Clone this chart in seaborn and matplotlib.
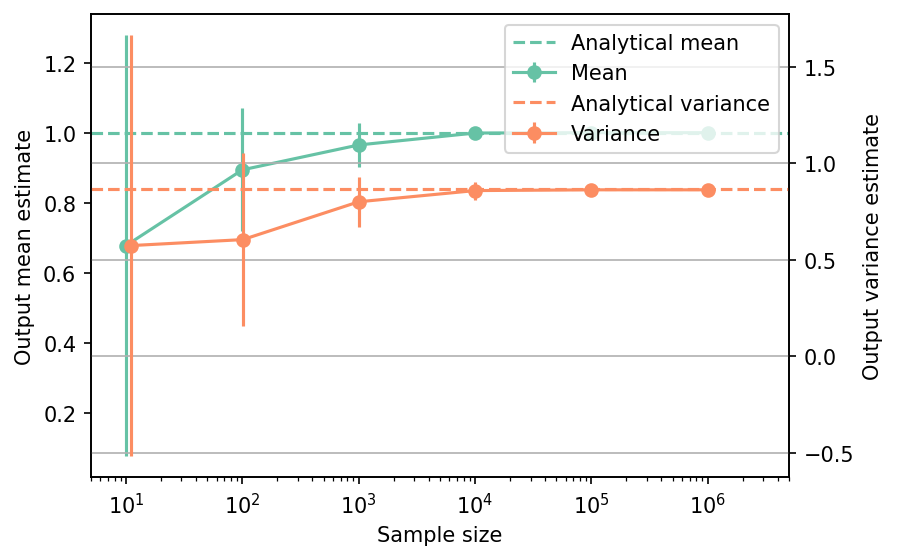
import numpy as np
import matplotlib
matplotlib.use('Agg')
import matplotlib.pyplot as plt
import seaborn as sns

sample_sizes = [10, 100, 1000, 10000, 100000, 1000000]
var_sizes = [11, 101, 1001, 10001, 100001, 1000001]

mean_est = [0.678, 0.894, 0.965, 0.999, 1.0, 1.0]
mean_err = [0.6, 0.175, 0.062, 0.015, 0.005, 0.002]
var_est = [0.573, 0.604, 0.80, 0.858, 0.862, 0.862]
var_err = [1.09, 0.447, 0.13, 0.047, 0.015, 0.005]

analytical_mean = 1.0
analytical_var = 0.864

colors = sns.color_palette('Set2')

fig, ax1 = plt.subplots(figsize=(5.98, 3.733), dpi=150)
ax2 = ax1.twinx()

ax1.axhline(analytical_mean, color=colors[0], linestyle='--', label='Analytical mean')
ax1.errorbar(sample_sizes, mean_est, yerr=mean_err, fmt='o-', color=colors[0], label='Mean')
ax2.axhline(analytical_var, color=colors[1], linestyle='--', label='Analytical variance')
ax2.errorbar(var_sizes, var_est, yerr=var_err, fmt='o-', color=colors[1], label='Variance')

ax1.set_xscale('log')
ax1.set_xlim(5, 5e6)
ax1.set_xlabel('Sample size')
ax1.set_ylabel('Output mean estimate')
ax2.set_ylabel('Output variance estimate')
ax2.grid(axis='y')

h1, l1 = ax1.get_legend_handles_labels()
h2, l2 = ax2.get_legend_handles_labels()
ax2.legend(h1 + h2, l1 + l2, loc='upper right')

fig.subplots_adjust(left=0.1014, right=0.8796, top=0.973, bottom=0.1464)
fig.savefig('out.png', dpi=150)
